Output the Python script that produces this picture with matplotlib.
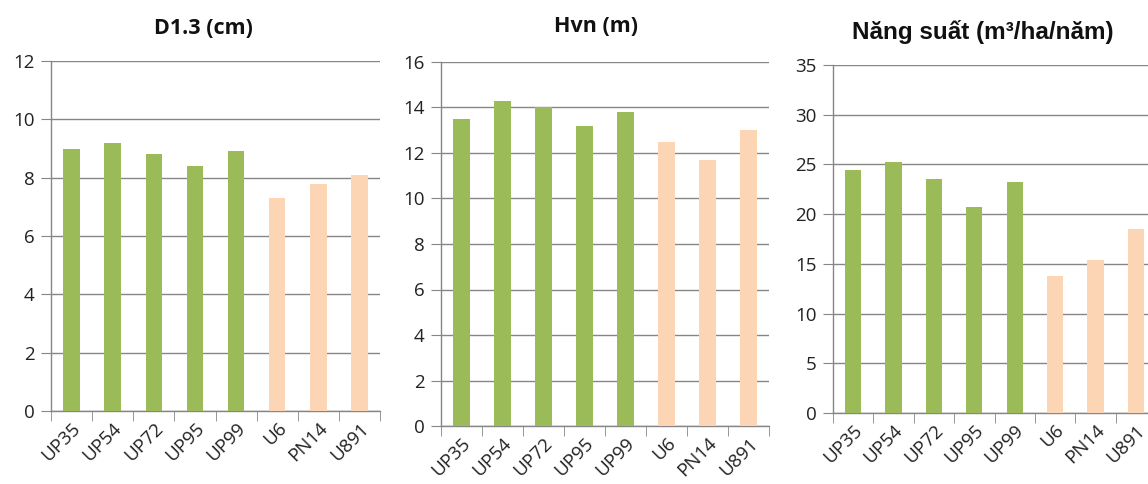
import matplotlib
matplotlib.use("Agg")
import matplotlib.pyplot as plt
import numpy as np

clones = ["UP35", "UP54", "UP72", "UP95", "UP99", "U6", "PN14", "U891"]
d13 = [9.0, 9.2, 8.8, 8.4, 8.9, 7.3, 7.8, 8.1]
hvn = [13.5, 14.3, 14.0, 13.2, 13.8, 12.5, 11.7, 13.0]
nang_suat = [24.4, 25.2, 23.5, 20.7, 23.2, 13.8, 15.4, 18.5]

green = "#9BBB59"
peach = "#FCD5B5"
colors = [green] * 5 + [peach] * 3
grey = "#868686"

plt.rcParams["font.family"] = ["Open Sans", "DejaVu Sans"]

W, H = 1148, 484
fig = plt.figure(figsize=(W / 100, H / 100), dpi=100)


def panel(left, right, top, bottom, vals, ymax, step, title, title_xy, title_font, title_size):
    ax = fig.add_axes([left / W, 1 - bottom / H, (right - left) / W, (bottom - top) / H])
    x = np.arange(len(vals))
    ax.bar(x, vals, width=0.4, color=colors, zorder=3)
    ax.set_xlim(-0.5, len(vals) - 0.5)
    ax.set_ylim(0, ymax)
    ax.set_yticks(np.arange(0, ymax + step / 2, step))
    ax.yaxis.grid(True, color=grey, lw=1, zorder=0)
    for s in ["top", "right"]:
        ax.spines[s].set_visible(False)
    for s in ["left", "bottom"]:
        ax.spines[s].set_color(grey)
        ax.spines[s].set_linewidth(1)
    ax.set_xticks(x)
    ax.set_xticklabels(clones, rotation=45, ha="right", rotation_mode="anchor")
    ax.set_xticks(np.arange(-0.5, len(vals)), minor=True)
    ax.tick_params(axis="x", which="major", length=0, pad=6, labelsize=13.5, labelcolor="#222222")
    ax.tick_params(axis="x", which="minor", length=7, color=grey, direction="out")
    ax.tick_params(axis="y", length=7, color=grey, labelsize=13.5, labelcolor="#222222", pad=5)
    fig.text(title_xy[0] / W, 1 - title_xy[1] / H, title, ha="center", va="center",
             fontsize=title_size, fontweight="bold", family=title_font, color="#111111")
    return ax


panel(51, 380, 61, 411, d13, 12, 2, "D1.3 (cm)", (203, 29), ["Open Sans", "DejaVu Sans"], 15.5)
panel(441, 769, 62, 426, hvn, 16, 2, "Hvn (m)", (596, 27), ["Open Sans", "DejaVu Sans"], 15.5)
panel(833, 1156, 65, 413, nang_suat, 35, 5, "Năng suất (m³/ha/năm)", (983, 32),
      ["Liberation Sans", "DejaVu Sans"], 17.5)

fig.savefig("out.png", dpi=100)
